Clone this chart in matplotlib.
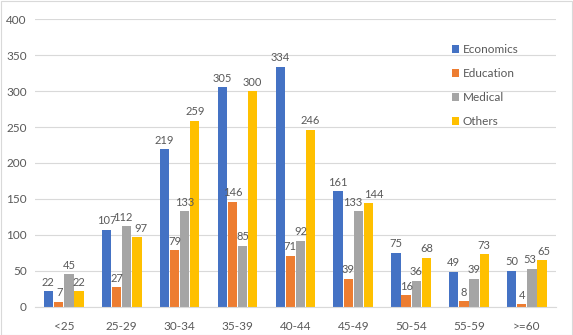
import matplotlib

matplotlib.use("Agg")
import matplotlib.pyplot as plt
import numpy as np

CATEGORIES = ["<25", "25-29", "30-34", "35-39", "40-44", "45-49", "50-54", "55-59", ">=60"]
ECONOMICS = [22, 107, 219, 305, 334, 161, 75, 49, 50]
EDUCATION = [7, 27, 79, 146, 71, 39, 16, 8, 4]
MEDICAL = [45, 112, 133, 85, 92, 133, 36, 39, 53]
OTHERS = [22, 97, 259, 300, 246, 144, 68, 73, 65]

SERIES = [
    ("Economics", ECONOMICS, "#4472C4"),
    ("Education", EDUCATION, "#ED7D31"),
    ("Medical", MEDICAL, "#A5A5A5"),
    ("Others", OTHERS, "#FFC000"),
]
TEXT_COLOR = "#595959"
FS = 8.5
DPI = 100

plt.rcParams["font.family"] = ["Lato", "DejaVu Sans"]

fig = plt.figure(figsize=(5.73, 3.35), dpi=DPI)
ax = fig.add_axes([0.061, 0.084, 0.909, 0.859])

x = np.arange(len(CATEGORIES))
step = 0.175
width = 0.16
label_sets = []
for i, (name, values, color) in enumerate(SERIES):
    offset = (i - 1.5) * step
    bars = ax.bar(x + offset, values, width, color=color, label=name, zorder=2)
    label_sets.append(ax.bar_label(bars, padding=2.5, fontsize=8, color=TEXT_COLOR))

ax.set_ylim(0, 400)
ax.set_yticks(range(0, 401, 50))
ax.set_xlim(-0.5, len(CATEGORIES) - 0.5)
ax.set_xticks(x)
ax.set_xticklabels(CATEGORIES)
ax.tick_params(axis="both", length=0, labelsize=FS, colors=TEXT_COLOR)
ax.tick_params(axis="x", pad=10)
ax.tick_params(axis="y", pad=6)
ax.grid(axis="y", color="#D9D9D9", linewidth=0.8, zorder=0)
for side in ("top", "right", "left"):
    ax.spines[side].set_visible(False)
ax.spines["bottom"].set_color("#D9D9D9")

leg = ax.legend(
    loc="upper left",
    bbox_to_anchor=(0.78, 0.95),
    frameon=False,
    fontsize=FS,
    handlelength=0.6,
    handleheight=0.6,
    handletextpad=0.3,
    labelspacing=1.1,
)
for t in leg.get_texts():
    t.set_color(TEXT_COLOR)

# nudge neighbouring bar labels apart where they collide (a few passes)
for _ in range(4):
    fig.canvas.draw()
    renderer = fig.canvas.get_renderer()
    moved = False
    for g in range(len(CATEGORIES)):
        for i in range(len(SERIES) - 1):
            left, right = label_sets[i][g], label_sets[i + 1][g]
            bl, br = left.get_window_extent(renderer), right.get_window_extent(renderer)
            overlap_x = bl.x1 - br.x0
            overlap_y = min(bl.y1, br.y1) - max(bl.y0, br.y0)
            if overlap_x > -1 and overlap_y > 0:
                shift = (overlap_x + 1.5) / 2 * 72 / DPI
                lx, ly = left.xyann
                rx, ry = right.xyann
                left.xyann = (lx - shift, ly)
                right.xyann = (rx + shift, ry)
                moved = True
    if not moved:
        break

fig.patches.append(
    plt.Rectangle((0.001, 0.001), 0.998, 0.997, transform=fig.transFigure,
                  fill=False, edgecolor="#D9D9D9", linewidth=0.8)
)

fig.savefig("out.png", dpi=DPI)
